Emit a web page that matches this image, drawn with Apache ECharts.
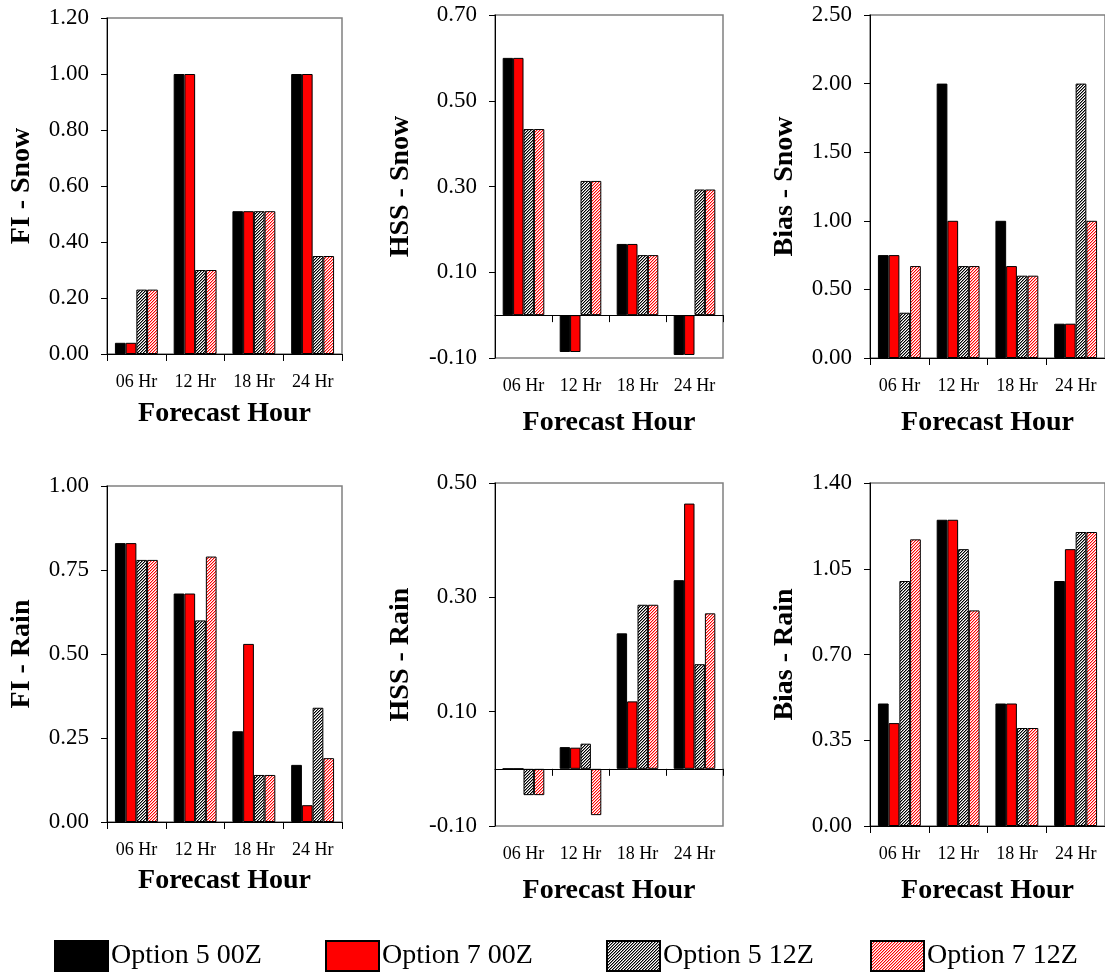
<!DOCTYPE html>
<html>
<head>
<meta charset="utf-8">
<script src="https://cdn.jsdelivr.net/npm/echarts@6/dist/echarts.min.js"></script>
<style>
  html, body { margin: 0; padding: 0; background: #fff; }
  #chart { width: 1105px; height: 975px; }
</style>
</head>
<body>
<div id="chart"></div>
<script>
// Forecast verification scores by forecast hour
const categories = ['06 Hr', '12 Hr', '18 Hr', '24 Hr'];
const seriesNames = ['Option 5 00Z', 'Option 7 00Z', 'Option 5 12Z', 'Option 7 12Z'];

// One row per series (Option 5 00Z, Option 7 00Z, Option 5 12Z, Option 7 12Z)
const fiSnow = [
  [0.04, 1.00, 0.51, 1.00],
  [0.04, 1.00, 0.51, 1.00],
  [0.23, 0.30, 0.51, 0.35],
  [0.23, 0.30, 0.51, 0.35]
];
const hssSnow = [
  [0.60, -0.086, 0.166, -0.093],
  [0.60, -0.086, 0.166, -0.093],
  [0.434, 0.313, 0.14, 0.293],
  [0.434, 0.313, 0.14, 0.293]
];
const biasSnow = [
  [0.75, 2.00, 1.00, 0.25],
  [0.75, 1.00, 0.67, 0.25],
  [0.33, 0.67, 0.60, 2.00],
  [0.67, 0.67, 0.60, 1.00]
];
const fiRain = [
  [0.83, 0.68, 0.27, 0.17],
  [0.83, 0.68, 0.53, 0.05],
  [0.78, 0.60, 0.14, 0.34],
  [0.78, 0.79, 0.14, 0.19]
];
const hssRain = [
  [0.00, 0.038, 0.237, 0.330],
  [0.00, 0.037, 0.118, 0.464],
  [-0.046, 0.044, 0.287, 0.183],
  [-0.046, -0.081, 0.287, 0.272]
];
const biasRain = [
  [0.50, 1.25, 0.50, 1.00],
  [0.42, 1.25, 0.50, 1.13],
  [1.00, 1.13, 0.40, 1.20],
  [1.17, 0.88, 0.40, 1.20]
];

// Y-axis tick values for each panel
const fiSnowTicks = [0, 0.2, 0.4, 0.6, 0.8, 1.0, 1.2];
const hssSnowTicks = [-0.1, 0.1, 0.3, 0.5, 0.7];
const biasSnowTicks = [0, 0.5, 1.0, 1.5, 2.0, 2.5];
const fiRainTicks = [0, 0.25, 0.5, 0.75, 1.0];
const hssRainTicks = [-0.1, 0.1, 0.3, 0.5];
const biasRainTicks = [0, 0.35, 0.7, 1.05, 1.4];

const FONT = '"Liberation Serif", "Times New Roman", serif';

// Fine diagonal hatch tile used for the 12Z runs
function hatch(dark, mid) {
  const c = document.createElement('canvas');
  c.width = 3; c.height = 3;
  const g = c.getContext('2d');
  g.fillStyle = '#ffffff';
  g.fillRect(0, 0, 3, 3);
  for (let y = 0; y < 3; y++) {
    for (let x = 0; x < 3; x++) {
      const k = (x + y) % 3;
      if (k === 0) { g.fillStyle = dark; g.fillRect(x, y, 1, 1); }
      else if (k === 1) { g.fillStyle = mid; g.fillRect(x, y, 1, 1); }
    }
  }
  return { image: c, repeat: 'repeat' };
}

const fills = ['#000000', '#ff0000', hatch('#000000', '#8a8a8a'), hatch('#ff0000', '#ffa0a0')];

const panels = [
  { name: 'FI - Snow',   data: fiSnow,   ticks: fiSnowTicks,   grid: { left: 107, top: 18,  width: 235, height: 336 }, yGap: 71, xGap: 46 },
  { name: 'HSS - Snow',  data: hssSnow,  ticks: hssSnowTicks,  grid: { left: 495, top: 15,  width: 228, height: 343 }, yGap: 80, xGap: 51 },
  { name: 'Bias - Snow', data: biasSnow, ticks: biasSnowTicks, grid: { left: 870, top: 15,  width: 237, height: 343 }, yGap: 71, xGap: 51 },
  { name: 'FI - Rain',   data: fiRain,   ticks: fiRainTicks,   grid: { left: 107, top: 486, width: 235, height: 336 }, yGap: 71, xGap: 45 },
  { name: 'HSS - Rain',  data: hssRain,  ticks: hssRainTicks,  grid: { left: 495, top: 483, width: 228, height: 343 }, yGap: 80, xGap: 51 },
  { name: 'Bias - Rain', data: biasRain, ticks: biasRainTicks, grid: { left: 870, top: 483, width: 237, height: 343 }, yGap: 71, xGap: 51 }
];

const grids = [], xAxes = [], yAxes = [], series = [];

panels.forEach((p, i) => {
  grids.push(Object.assign({
    show: true,
    borderColor: '#808080',
    borderWidth: 1.5,
    backgroundColor: 'transparent'
  }, p.grid));

  // Axis line at zero with ticks between categories
  xAxes.push({
    gridIndex: i,
    type: 'category',
    data: categories,
    position: 'bottom',
    axisLine: { show: true, onZero: true, lineStyle: { color: '#000', width: 1 } },
    axisTick: { show: true, length: 7, lineStyle: { color: '#000', width: 1 } },
    axisLabel: { show: false },
    splitLine: { show: false },
    z: 10
  });
  // Category labels and title along the bottom of the frame
  xAxes.push({
    gridIndex: i,
    type: 'category',
    data: categories,
    position: 'bottom',
    axisLine: { show: false, onZero: false },
    axisTick: { show: false },
    axisLabel: { show: true, margin: 19, fontFamily: FONT, fontSize: 18, color: '#000' },
    splitLine: { show: false },
    name: 'Forecast Hour',
    nameLocation: 'middle',
    nameGap: p.xGap,
    nameTextStyle: { fontFamily: FONT, fontSize: 28, fontWeight: 'bold', color: '#000' }
  });

  yAxes.push({
    gridIndex: i,
    type: 'value',
    min: p.ticks[0],
    max: p.ticks[p.ticks.length - 1],
    axisLine: { show: true, lineStyle: { color: '#000', width: 1 } },
    axisTick: { show: true, length: 6, lineStyle: { color: '#000', width: 1 }, customValues: p.ticks },
    axisLabel: {
      customValues: p.ticks,
      formatter: v => v.toFixed(2),
      fontFamily: FONT, fontSize: 23, color: '#000', margin: 18
    },
    splitLine: { show: false },
    name: p.name,
    nameLocation: 'middle',
    nameGap: p.yGap,
    nameTextStyle: { fontFamily: FONT, fontSize: 28, fontWeight: 'bold', color: '#000' },
    z: 10
  });

  p.data.forEach((vals, s) => {
    series.push({
      type: 'bar',
      name: seriesNames[s],
      xAxisIndex: i * 2,
      yAxisIndex: i,
      data: vals,
      barGap: '0%',
      barCategoryGap: '27%',
      itemStyle: { color: fills[s], borderColor: '#000', borderWidth: 1 },
      emphasis: { disabled: true }
    });
  });
});

// One legend entry per run, spread across the bottom
const legendLefts = [54, 325, 606, 870];
const legends = seriesNames.map((n, k) => ({
  data: [n],
  left: legendLefts[k],
  top: 940,
  padding: 0,
  orient: 'horizontal',
  icon: 'rect',
  itemWidth: 53,
  itemHeight: 30,
  selectedMode: false,
  textStyle: { fontFamily: FONT, fontSize: 28, color: '#000', padding: [0, 0, 0, -2] }
}));

const chart = echarts.init(document.getElementById('chart'), null, { renderer: 'canvas' });
chart.setOption({
  animation: false,
  backgroundColor: '#ffffff',
  grid: grids,
  xAxis: xAxes,
  yAxis: yAxes,
  legend: legends,
  series: series
});
</script>
</body>
</html>
